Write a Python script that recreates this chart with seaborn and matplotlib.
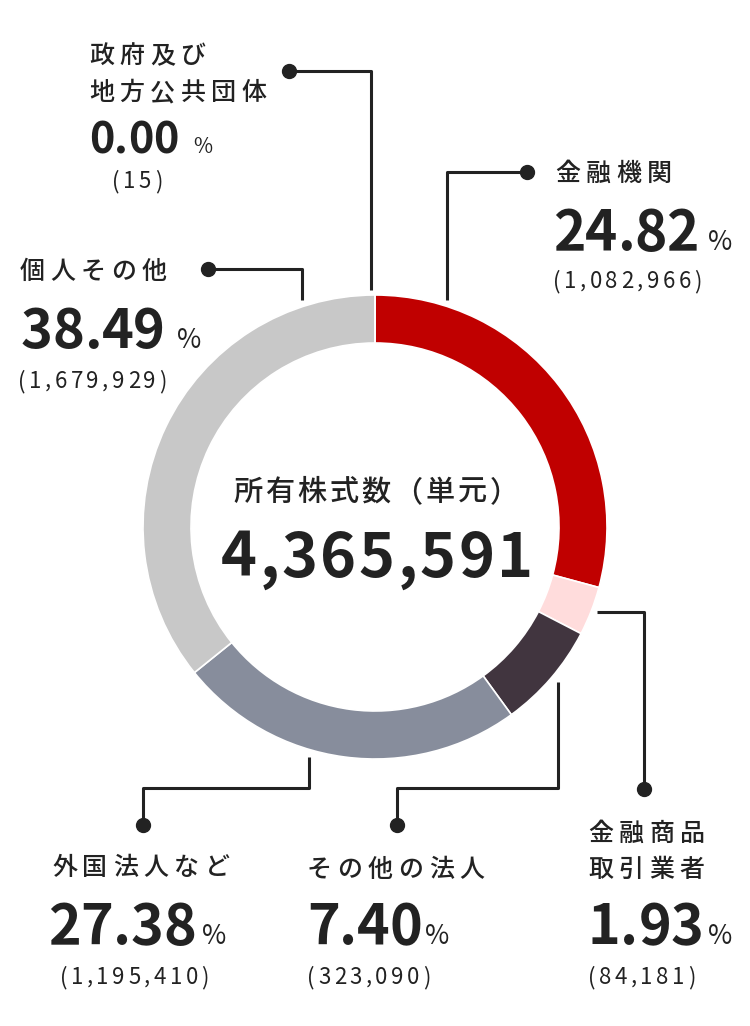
import matplotlib
matplotlib.use("Agg")
import matplotlib.pyplot as plt
from matplotlib.font_manager import FontProperties
import seaborn as sns

# data
categories = ["金融機関", "金融商品\n取引業者", "その他の法人", "外国法人など", "個人その他", "政府及び\n地方公共団体"]
share_pct = [24.82, 1.93, 7.40, 27.38, 38.49, 0.00]
units = [1082966, 84181, 323090, 1195410, 1679929, 15]
# arc sizes as they are drawn in the ring (percent of the circle)
ring_pct = [29.2, 3.4, 7.4, 24.2, 35.8, 0.0]
colors = ["#c00000", "#ffdcdc", "#41353f", "#878d9c", "#c8c8c8", "#c8c8c8"]
total_title = "所有株式数（単元）"
total_units = 4365591

INK = "#222222"
FONT = ["Noto Sans CJK JP", "DejaVu Sans"]

sns.set_theme(style="white")
plt.rcParams["font.family"] = FONT

W, H = 750, 1026
fig = plt.figure(figsize=(W / 100, H / 100), dpi=100)
ax = fig.add_axes([0, 0, 1, 1])
renderer = fig.canvas.get_renderer()


def spaced(x, y, s, size, track=0.0, weight="normal", ha="left"):
    # draw text char by char so letter spacing can be set (pixels)
    prop = FontProperties(family=FONT, size=size, weight=weight)
    widths = [renderer.get_text_width_height_descent(c, prop, ismath=False)[0] for c in s]
    total = sum(widths) + track * (len(s) - 1)
    if ha == "center":
        x -= total / 2
    for c, w in zip(s, widths):
        ax.text(x, y, c, fontproperties=prop, color=INK, ha="left", va="baseline")
        x += w + track
    return x - track


# ring
ax.pie(ring_pct, colors=colors, radius=232, center=(375, 527), startangle=-90,
       counterclock=True, wedgeprops=dict(width=48, edgecolor="white", linewidth=1.2))

# layout for each label: name x, name baselines, number x/baseline/size, % x, units x/baseline
layout = [
    dict(nx=555, ny=[181], vx=553, vy=250, vs=39.5, px=708, ps=19, ux=553, uy=288,
         path=[(527, 172), (447, 172), (447, 300)]),
    dict(nx=588, ny=[841, 877], vx=588, vy=944, vs=40, px=708, ps=19, ux=588, uy=984,
         path=[(644, 789), (644, 612), (597, 612)]),
    dict(nx=307, ny=[877], vx=307, vy=944, vs=40, px=422, ps=19, ux=307, uy=984,
         path=[(397, 825), (397, 788), (558, 788), (558, 682)]),
    dict(nx=52, ny=[875], vx=48, vy=944, vs=40, px=202, ps=19, ux=60, uy=984,
         path=[(143, 825), (143, 788), (309, 788), (309, 757)]),
    dict(nx=20, ny=[279], vx=21, vy=348, vs=39, px=177, ps=19, ux=18, uy=388,
         path=[(208, 269), (302, 269), (302, 300)]),
    dict(nx=89, ny=[63, 100], vx=89, vy=153, vs=31, px=193, ps=15, ux=112, uy=188,
         path=[(289, 71), (371, 71), (371, 290)]),
]

for name, pct, unit, lay in zip(categories, share_pct, units, layout):
    xs = [p[0] for p in lay["path"]]
    ys = [p[1] for p in lay["path"]]
    ax.plot(xs, ys, color=INK, lw=2.2, zorder=0.5, solid_capstyle="butt")
    ax.plot(xs[0], ys[0], "o", color=INK, ms=10, zorder=0.5)
    for line, by in zip(name.split("\n"), lay["ny"]):
        spaced(lay["nx"], by, line, 18, track=5.5, weight="medium")
    end = spaced(lay["vx"], lay["vy"], f"{pct:.2f}", lay["vs"], track=-0.3, weight="bold")
    spaced(max(lay["px"], end + 3), lay["vy"], "%", lay["ps"])
    spaced(lay["ux"], lay["uy"], f"({unit:,})", 16, track=3.5)

# centre text
spaced(376, 501, total_title, 21, track=3, weight="medium", ha="center")
spaced(377, 577, f"{total_units:,}", 44, track=2.5, weight="bold", ha="center")

ax.set_xlim(0, W)
ax.set_ylim(H, 0)
ax.set_aspect("equal")
ax.axis("off")

fig.savefig("out.png", dpi=100, facecolor="white")
